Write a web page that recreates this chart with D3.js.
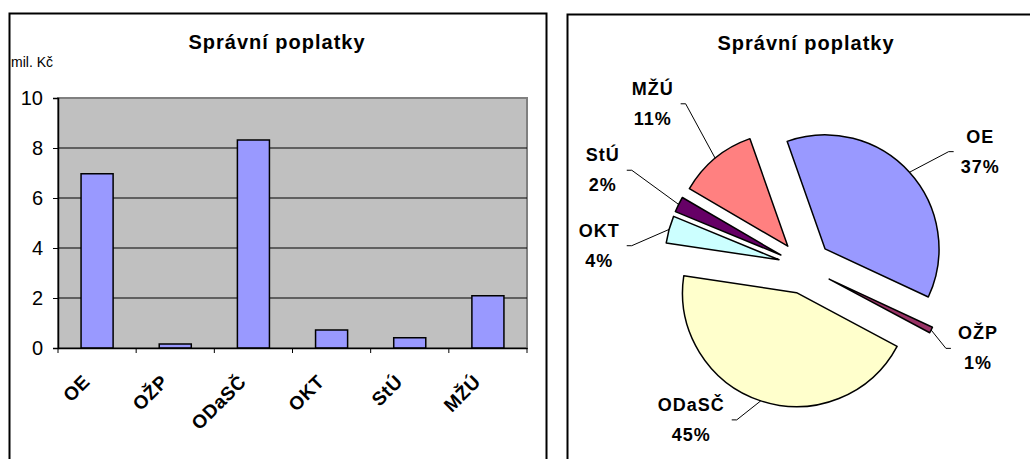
<!DOCTYPE html>
<html>
<head>
<meta charset="utf-8">
<script src="https://cdn.jsdelivr.net/npm/d3@7"></script>
<style>
  body { margin: 0; background: #fff; }
  text { font-family: "Liberation Sans", Arial, sans-serif; fill: #000; }
</style>
</head>
<body>
<div id="chart"></div>
<script>
const width = 1030
const height = 459

// data (mil. Kč)
const categories = ['OE', 'OŽP', 'ODaSČ', 'OKT', 'StÚ', 'MŽÚ']
const values = [6.97, 0.16, 8.32, 0.72, 0.41, 2.09]
const yTicks = [0, 2, 4, 6, 8, 10]
const sliceColors = ['#9999ff', '#993366', '#ffffcc', '#ccffff', '#660066', '#ff8080']
const title = 'Správní poplatky'
const unitLabel = 'mil. Kč'

const svg = d3.select('#chart')
  .append('svg')
  .attr('width', width)
  .attr('height', height)

// ---------- bar chart ----------
svg.append('rect')
  .attr('x', 9.5).attr('y', 13.5)
  .attr('width', 537).attr('height', 460)
  .attr('fill', 'none').attr('stroke', '#000').attr('stroke-width', 2)

const plot = { left: 58, right: 527, top: 98, bottom: 348 }

const x = d3.scaleBand()
  .domain(categories)
  .range([plot.left, plot.right])
  .paddingInner(0.59)
  .paddingOuter(0.295)

const xb = d3.scaleBand().domain(categories).range([plot.left, plot.right])

const y = d3.scaleLinear()
  .domain([0, 10])
  .range([plot.bottom, plot.top])

svg.append('rect')
  .attr('x', plot.left).attr('y', plot.top)
  .attr('width', plot.right - plot.left).attr('height', plot.bottom - plot.top)
  .attr('fill', '#c0c0c0').attr('stroke', '#808080').attr('stroke-width', 2)

svg.append('g')
  .selectAll('line')
  .data(yTicks.filter(t => t > 0 && t < 10))
  .enter().append('line')
  .attr('x1', plot.left).attr('x2', plot.right)
  .attr('y1', d => y(d)).attr('y2', d => y(d))
  .attr('stroke', '#000').attr('stroke-width', 1)

svg.selectAll('.bar')
  .data(values)
  .enter().append('rect')
  .attr('class', 'bar')
  .attr('x', (d, i) => x(categories[i]))
  .attr('width', x.bandwidth())
  .attr('y', d => y(d))
  .attr('height', d => y(0) - y(d))
  .attr('fill', '#9999ff')
  .attr('stroke', '#000')
  .attr('stroke-width', 1.5)

const yAxis = svg.append('g')
  .attr('transform', `translate(${plot.left},0)`)
  .call(d3.axisLeft(y).tickValues(yTicks).tickSize(5).tickPadding(10))
yAxis.select('.domain').attr('stroke', '#000').attr('stroke-width', 1.5)
yAxis.selectAll('.tick line').attr('stroke', '#000')
yAxis.selectAll('.tick text')
  .style('font-size', '20px')
  .style('font-family', '"Liberation Sans", Arial, sans-serif')

const xAxis = svg.append('g')
  .attr('transform', `translate(0,${plot.bottom})`)
  .call(d3.axisBottom(xb).tickSize(0).tickFormat(''))
xAxis.select('.domain').attr('stroke', '#000').attr('stroke-width', 1.5)

svg.append('g')
  .selectAll('line')
  .data(d3.range(categories.length + 1))
  .enter().append('line')
  .attr('x1', i => plot.left + i * xb.step())
  .attr('x2', i => plot.left + i * xb.step())
  .attr('y1', plot.bottom).attr('y2', plot.bottom + 5)
  .attr('stroke', '#000')

svg.append('g')
  .selectAll('text')
  .data(categories)
  .enter().append('text')
  .attr('transform', d => `translate(${xb(d) + xb.bandwidth() / 2 - 6},${plot.bottom + 35}) rotate(-45)`)
  .attr('text-anchor', 'end')
  .style('font-size', '19px')
  .style('font-weight', 'bold')
  .style('letter-spacing', '0.5px')
  .text(d => d)

svg.append('text')
  .attr('x', 277).attr('y', 49)
  .attr('text-anchor', 'middle')
  .style('font-size', '20px')
  .style('font-weight', 'bold')
  .style('letter-spacing', '1px')
  .text(title)

svg.append('text')
  .attr('x', 11).attr('y', 67)
  .style('font-size', '14px')
  .text(unitLabel)

// ---------- pie chart ----------
svg.append('rect')
  .attr('x', 567.5).attr('y', 14.5)
  .attr('width', 480).attr('height', 460)
  .attr('fill', 'none').attr('stroke', '#000').attr('stroke-width', 2)

svg.append('text')
  .attr('x', 806).attr('y', 50)
  .attr('text-anchor', 'middle')
  .style('font-size', '20px')
  .style('font-weight', 'bold')
  .style('letter-spacing', '1px')
  .text(title)

const cx = 805
const cy = 267
const radius = 114
const explode = 27
const labelRadius = 200
// label nudges per slice, in px
const labelNudge = [[27, 19], [-6, -8], [-51, -37], [-13, 32], [-23, -8], [-25, -9]]

const pie = d3.pie()
  .sort(null)
  .startAngle(-19.4 * Math.PI / 180)
  .endAngle((360 - 19.4) * Math.PI / 180)

const arcs = pie(values)
const total = d3.sum(values)
const arc = d3.arc().innerRadius(0).outerRadius(radius)

const pg = svg.append('g').attr('transform', `translate(${cx},${cy})`)

pg.selectAll('path')
  .data(arcs)
  .enter().append('path')
  .attr('transform', d => {
    const m = (d.startAngle + d.endAngle) / 2
    const p = d3.pointRadial(m, explode)
    return `translate(${p[0]},${p[1]})`
  })
  .attr('d', arc)
  .attr('fill', (d, i) => sliceColors[i])
  .attr('stroke', '#000')
  .attr('stroke-width', 1.5)
  .attr('stroke-linejoin', 'round')

const labels = pg.selectAll('.lbl')
  .data(arcs)
  .enter().append('g')
  .attr('class', 'lbl')

labels.each(function(d, i) {
  const g = d3.select(this)
  const m = (d.startAngle + d.endAngle) / 2
  const lp = d3.pointRadial(m, labelRadius)
  const lx = lp[0] + labelNudge[i][0]
  const ly = lp[1] + labelNudge[i][1]

  const t1 = g.append('text')
    .attr('x', lx).attr('y', ly - 9)
    .attr('text-anchor', 'middle')
    .style('font-size', '18px').style('font-weight', 'bold')
    .style('letter-spacing', '1px')
    .text(categories[i])
  const t2 = g.append('text')
    .attr('x', lx).attr('y', ly + 21)
    .attr('text-anchor', 'middle')
    .style('font-size', '18px').style('font-weight', 'bold')
    .style('letter-spacing', '1px')
    .text(Math.round(d.value / total * 100) + '%')

  const half = Math.max(t1.node().getComputedTextLength(), t2.node().getComputedTextLength()) / 2
  const side = Math.sin(m) >= 0 ? -1 : 1
  const endX = lx + side * (half + 7)
  const elbowX = endX + side * 5
  const ep = d3.pointRadial(m, explode)
  const ap = d3.pointRadial(m, radius)
  const start = [ep[0] + ap[0], ep[1] + ap[1]]

  g.append('polyline')
    .attr('points', [start, [elbowX, ly], [endX, ly]].map(p => p.join(',')).join(' '))
    .attr('fill', 'none')
    .attr('stroke', '#000')
    .attr('stroke-width', 1)
})
</script>
</body>
</html>
